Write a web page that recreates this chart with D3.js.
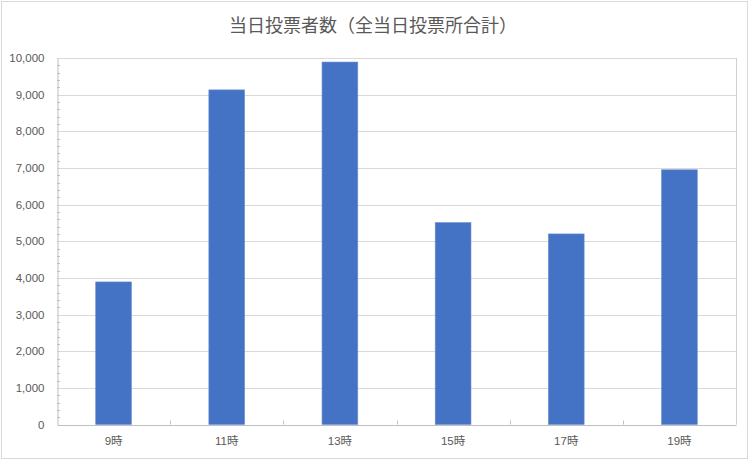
<!DOCTYPE html>
<html>
<head>
<meta charset="utf-8">
<script src="https://cdn.jsdelivr.net/npm/d3@7"></script>
<style>
  body { margin: 0; background: #fff; }
  text { font-family: "Liberation Sans Narrow", "Liberation Sans", "Noto Sans CJK JP", sans-serif; }
</style>
</head>
<body>
<div id="chart"></div>
<script>
// data
var hours = ["9時", "11時", "13時", "15時", "17時", "19時"];
var voters = [3890, 9130, 9890, 5510, 5200, 6950];
var yTicks = [0, 1000, 2000, 3000, 4000, 5000, 6000, 7000, 8000, 9000, 10000];
var title = "当日投票者数（全当日投票所合計）";

var W = 751, H = 463;
var plotL = 57, plotR = 736, plotT = 58, plotB = 424.5;

var svg = d3.select("#chart").append("svg")
        .attr("width", W)
        .attr("height", H);

// chart border
svg.append("rect")
        .attr("x", 1.5).attr("y", 1.5)
        .attr("width", 746).attr("height", 457)
        .style("fill", "#fff")
        .style("stroke", "#d9d9d9");

svg.append("text")
        .attr("x", 373).attr("y", 32)
        .attr("text-anchor", "middle")
        .style("font-family", "'Noto Sans CJK JP', sans-serif")
        .style("font-size", "18px")
        .style("fill", "#595959")
        .text(title);

var x = d3.scaleBand()
        .domain(hours)
        .range([plotL, plotR])
        .paddingInner(0.684)
        .paddingOuter(0.342);

var xCat = d3.scaleBand().domain(hours).range([plotL, plotR]);

var y = d3.scaleLinear()
        .domain([0, 10000])
        .range([plotB, plotT]);

// gridlines
svg.append("g")
        .selectAll("line")
        .data(yTicks.slice(1))
        .join("line")
        .attr("x1", plotL).attr("x2", plotR)
        .attr("y1", function(d) { return Math.round(y(d)) + 0.5; })
        .attr("y2", function(d) { return Math.round(y(d)) + 0.5; })
        .style("stroke", "#d9d9d9");

// right border of plot
svg.append("line")
        .attr("x1", plotR + 0.5).attr("x2", plotR + 0.5)
        .attr("y1", plotT).attr("y2", plotB)
        .style("stroke", "#d0d0d0");

// minor ticks on y axis
var minor = d3.range(0, 10001, 200).filter(function(d) { return d % 1000 != 0; });
svg.append("g")
        .selectAll("line")
        .data(minor)
        .join("line")
        .attr("x1", plotL).attr("x2", plotL + 3)
        .attr("y1", function(d) { return Math.round(y(d)) + 0.5; })
        .attr("y2", function(d) { return Math.round(y(d)) + 0.5; })
        .style("stroke", "#bfbfbf");

// bars
svg.append("g")
        .selectAll("rect")
        .data(voters)
        .join("rect")
        .attr("x", function(d, i) { return x(hours[i]); })
        .attr("width", x.bandwidth())
        .attr("y", function(d) { return y(d); })
        .attr("height", function(d) { return y(0) - y(d); })
        .style("fill", "#4472c4")
        .style("stroke", "#6d8fd0")
        .style("stroke-width", 0.6);

// y axis
var yAxis = svg.append("g")
        .attr("transform", "translate(" + (plotL + 0.5) + ",0)")
        .call(d3.axisLeft(y).tickValues(yTicks).tickSize(0).tickPadding(13)
              .tickFormat(d3.format(",")));
yAxis.select(".domain").style("stroke", "#bfbfbf");
yAxis.selectAll("text")
        .style("font-size", "11.5px")
        .style("fill", "#595959");

// x axis
var xAxis = svg.append("g")
        .attr("transform", "translate(0," + (plotB + 0.5) + ")")
        .call(d3.axisBottom(xCat).tickSize(0).tickPadding(12));
xAxis.select(".domain").style("stroke", "#bfbfbf");
xAxis.selectAll("text")
        .style("font-size", "11.5px")
        .style("fill", "#595959");

// category boundary ticks
svg.append("g")
        .selectAll("line")
        .data(hours.slice(1))
        .join("line")
        .attr("x1", function(d) { return Math.round(xCat(d)) + 0.5; })
        .attr("x2", function(d) { return Math.round(xCat(d)) + 0.5; })
        .attr("y1", plotB - 4).attr("y2", plotB)
        .style("stroke", "#bfbfbf");
</script>
</body>
</html>
